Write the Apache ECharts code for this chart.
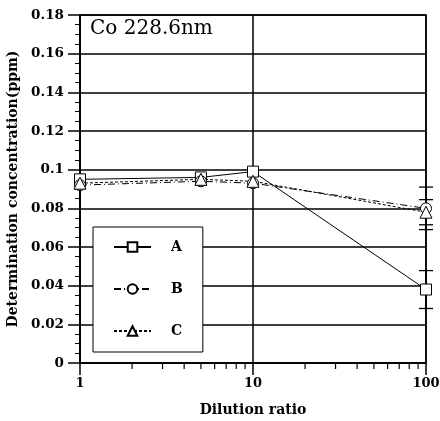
<!DOCTYPE html>
<html><head><meta charset="utf-8">
<script src="https://cdn.jsdelivr.net/npm/echarts@6/dist/echarts.min.js"></script>
<style>html,body{margin:0;padding:0;background:#fff}#c{width:440px;height:421px}</style>
</head><body><div id="c"></div>
<script>
var dilution = [1, 5, 10, 100];
var seriesA = [0.095, 0.096, 0.099, 0.038];
var seriesB = [0.092, 0.094, 0.093, 0.080];
var seriesC = [0.093, 0.095, 0.094, 0.078];
var errA = [null, null, null, 0.0098];
var errB = [null, null, null, 0.0110];
var errC = [null, null, null, 0.0065];
var xMinorTicks = [2, 3, 4, 5, 6, 7, 8, 9, 20, 30, 40, 50, 60, 70, 80, 90];
var titleText = 'Co 228.6nm';
var xName = 'Dilution ratio';
var yName = 'Determination concentration(ppm)';

var F = 'DejaVu Serif';
function pts(v){ return dilution.map(function(x,i){ return [x, v[i]]; }); }
function errs(v, e){
  var out = [];
  dilution.forEach(function(x,i){ if (e[i] != null) out.push([x, v[i], e[i]]); });
  return out;
}
var errData = errs(seriesA, errA).concat(errs(seriesB, errB)).concat(errs(seriesC, errC));

var chart = echarts.init(document.getElementById('c'), null, {renderer:'canvas'});
function lineSeries(name, data, symbol, size, dash){
  return {
    name: name, type: 'line', data: pts(data), symbol: symbol, symbolSize: size,
    showAllSymbol: true, z: 5,
    lineStyle: {color: '#000', width: 1, type: dash},
    itemStyle: {color: '#fff', borderColor: '#000', borderWidth: 1},
    emphasis: {disabled: true}, animation: false
  };
}
chart.setOption({
  animation: false,
  backgroundColor: '#fff',
  title: {text: titleText, left: 90, top: 19, padding: 0,
    textStyle: {fontFamily: F, fontWeight: 'normal', fontSize: 20, color: '#000'}},
  grid: {left: 80, right: 14, top: 15, bottom: 58, show: true, borderColor: '#000', borderWidth: 1.5,
    containLabel: false, outerBoundsMode: 'none'},
  legend: {
    data: ['A', 'B', 'C'], orient: 'vertical', left: 93, top: 227,
    itemWidth: 37, itemHeight: 12, itemGap: 28,
    padding: [13, 20, 14, 20],
    backgroundColor: '#fff', borderColor: '#000', borderWidth: 1,
    textStyle: {fontFamily: F, fontWeight: 'bold', fontSize: 14, color: '#000', padding: [0, 0, 0, 15]}
  },
  xAxis: {
    type: 'log', logBase: 10, min: 1, max: 100,
    name: xName, nameLocation: 'middle', nameGap: 40,
    nameTextStyle: {fontFamily: F, fontWeight: 'bold', fontSize: 14, color: '#000'},
    axisLine: {lineStyle: {color: '#000', width: 1.5}},
    axisTick: {length: 12, lineStyle: {color: '#000', width: 1.5}},
    axisLabel: {margin: 14, fontFamily: F, fontWeight: 'bold', fontSize: 13, color: '#000'},
    splitLine: {show: true, lineStyle: {color: '#000', width: 1.5}}
  },
  yAxis: {
    type: 'value', min: 0, max: 0.18, interval: 0.02,
    name: yName, nameLocation: 'middle', nameGap: 60,
    nameTextStyle: {fontFamily: F, fontWeight: 'bold', fontSize: 14, color: '#000'},
    axisLine: {lineStyle: {color: '#000', width: 1.5}},
    axisTick: {length: 12, lineStyle: {color: '#000', width: 1.5}},
    minorTick: {show: true, splitNumber: 4, length: 5, lineStyle: {color: '#000', width: 1}},
    axisLabel: {margin: 16, fontFamily: F, fontWeight: 'bold', fontSize: 13.5, color: '#000'},
    splitLine: {show: true, lineStyle: {color: '#000', width: 1.5}}
  },
  series: [
    {
      type: 'custom', name: 'xminor', silent: true, clip: false, z: 3,
      data: xMinorTicks.map(function(v){ return [v, 0]; }),
      encode: {x: 0, y: 1},
      renderItem: function(params, api){
        var p = api.coord([api.value(0), 0]);
        return {type: 'line', shape: {x1: p[0], y1: p[1], x2: p[0], y2: p[1] + 6},
          style: {stroke: '#000', lineWidth: 1.2}};
      }
    },
    {
      type: 'custom', name: 'err', silent: true, clip: false, z: 4,
      data: errData, encode: {x: 0, y: 1},
      renderItem: function(params, api){
        var x = api.value(0), y = api.value(1), e = api.value(2);
        var t = api.coord([x, y + e]), b = api.coord([x, y - e]);
        var hw = 7, st = {stroke: '#000', lineWidth: 1.3};
        return {type: 'group', children: [
          {type: 'line', shape: {x1: t[0], y1: t[1], x2: b[0], y2: b[1]}, style: st},
          {type: 'line', shape: {x1: t[0]-hw, y1: t[1], x2: t[0]+hw, y2: t[1]}, style: st},
          {type: 'line', shape: {x1: b[0]-hw, y1: b[1], x2: b[0]+hw, y2: b[1]}, style: st}
        ]};
      }
    },
    lineSeries('A', seriesA, 'rect', 11, 'solid'),
    lineSeries('B', seriesB, 'circle', 11, [7, 3, 1, 3]),
    lineSeries('C', seriesC, 'triangle', 12, [3, 2])
  ]
});
</script></body></html>
